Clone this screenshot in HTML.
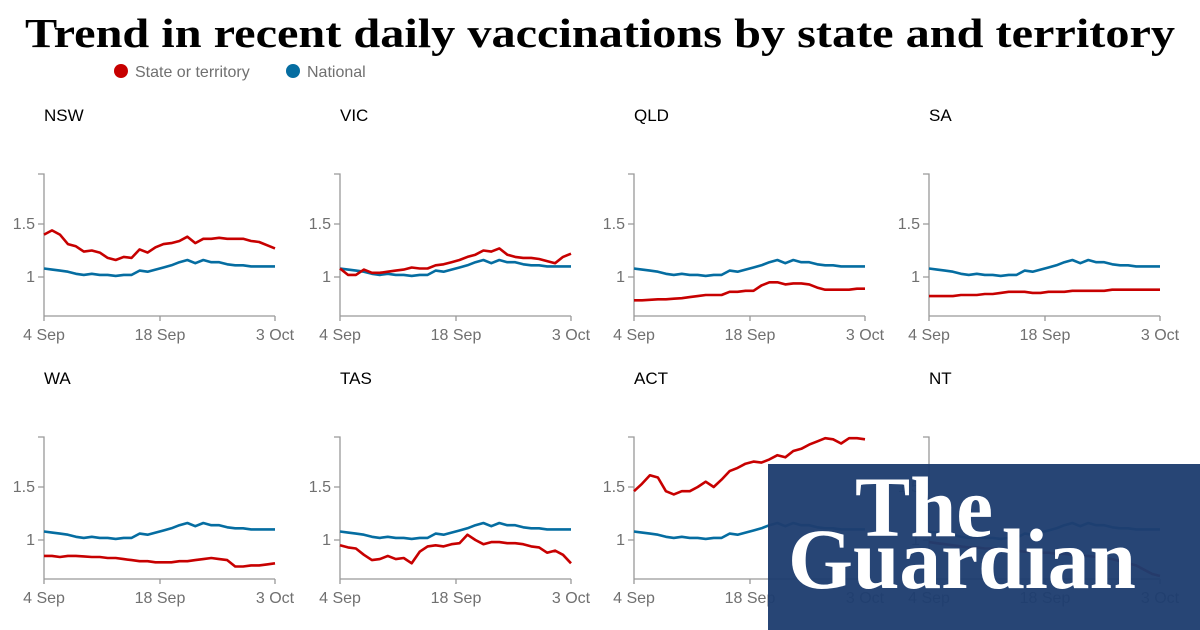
<!DOCTYPE html>
<html><head><meta charset="utf-8"><style>
html,body{margin:0;padding:0;background:#fff;}
svg{display:block;}
text{font-family:"Liberation Sans",sans-serif;}
</style></head><body>
<svg id="s" width="1200" height="630" viewBox="0 0 1200 630" xmlns="http://www.w3.org/2000/svg">
<text x="25" y="47" font-family="Liberation Serif, serif" font-weight="bold" font-size="41" textLength="1150" lengthAdjust="spacingAndGlyphs" fill="#000" style="font-family:'Liberation Serif',serif">Trend in recent daily vaccinations by state and territory</text>
<circle cx="121" cy="71" r="7" fill="#c70000"/>
<text x="135" y="77" font-size="16" fill="#707070">State or territory</text>
<circle cx="293" cy="71" r="7" fill="#056da1"/>
<text x="307" y="77" font-size="16" fill="#707070">National</text>
<g id="panels"></g>
<rect x="768" y="464" width="432" height="166" fill="#1e3d6f" fill-opacity="0.96"/>
<text x="855" y="536" font-size="86" font-weight="bold" fill="#fff" style="font-family:'Liberation Serif',serif" textLength="138" lengthAdjust="spacingAndGlyphs">The</text>
<text x="788" y="588" font-size="86" font-weight="bold" fill="#fff" style="font-family:'Liberation Serif',serif" textLength="348" lengthAdjust="spacingAndGlyphs">Guardian</text>
</svg>
<script>
var nat=[1.08,1.07,1.06,1.05,1.03,1.02,1.03,1.02,1.02,1.01,1.02,1.02,1.06,1.05,1.07,1.09,1.11,1.14,1.16,1.13,1.16,1.14,1.14,1.12,1.11,1.11,1.10,1.10,1.10,1.10];
var P=[
["NSW",[1.40,1.44,1.40,1.31,1.29,1.24,1.25,1.23,1.18,1.16,1.19,1.18,1.26,1.23,1.28,1.31,1.32,1.34,1.38,1.32,1.36,1.36,1.37,1.36,1.36,1.36,1.34,1.33,1.30,1.27]],
["VIC",[1.08,1.02,1.02,1.07,1.04,1.04,1.05,1.06,1.07,1.09,1.08,1.08,1.11,1.12,1.14,1.16,1.19,1.21,1.25,1.24,1.27,1.21,1.19,1.18,1.18,1.17,1.15,1.13,1.19,1.22]],
["QLD",[0.78,0.78,0.785,0.79,0.79,0.795,0.80,0.81,0.82,0.83,0.83,0.83,0.86,0.86,0.87,0.87,0.92,0.95,0.95,0.93,0.94,0.94,0.93,0.90,0.88,0.88,0.88,0.88,0.89,0.89]],
["SA",[0.82,0.82,0.82,0.82,0.83,0.83,0.83,0.84,0.84,0.85,0.86,0.86,0.86,0.85,0.85,0.86,0.86,0.86,0.87,0.87,0.87,0.87,0.87,0.88,0.88,0.88,0.88,0.88,0.88,0.88]],
["WA",[0.85,0.85,0.84,0.85,0.85,0.845,0.84,0.84,0.83,0.83,0.82,0.81,0.80,0.80,0.79,0.79,0.79,0.80,0.80,0.81,0.82,0.83,0.82,0.81,0.75,0.75,0.76,0.76,0.77,0.78]],
["TAS",[0.95,0.93,0.92,0.86,0.81,0.82,0.85,0.82,0.83,0.78,0.89,0.94,0.95,0.94,0.96,0.97,1.05,1.00,0.96,0.98,0.98,0.97,0.97,0.96,0.94,0.93,0.88,0.90,0.86,0.78]],
["ACT",[1.46,1.53,1.61,1.59,1.46,1.43,1.46,1.46,1.50,1.55,1.50,1.57,1.65,1.68,1.72,1.74,1.73,1.76,1.80,1.78,1.84,1.86,1.90,1.93,1.96,1.95,1.91,1.96,1.96,1.95]],
["NT",[0.98,0.97,0.96,0.95,0.94,0.93,0.93,0.92,0.92,0.91,0.90,0.90,0.89,0.89,0.88,0.88,0.87,0.87,0.86,0.85,0.85,0.84,0.83,0.82,0.80,0.78,0.76,0.72,0.68,0.66]]
];
var xs=[44,340,634,929],g=document.getElementById('panels'),h='';
P.forEach(function(p,i){
 var x0=xs[i%4],dy=i<4?0:263,W=231;
 function Y(v){return 277+dy-(v-1)*106;}
 function line(d,c){return '<polyline fill="none" stroke="'+c+'" stroke-width="2.6" stroke-linejoin="round" points="'+d.map(function(v,k){return (x0+k*W/29).toFixed(1)+','+Y(v).toFixed(1)}).join(' ')+'"/>';}
 var ax='#999';
 h+='<text x="'+x0+'" y="'+(121+dy)+'" font-size="17" fill="#000">'+p[0]+'</text>';
 h+='<path d="M'+(x0-6)+' '+(174+dy)+'H'+x0+'V'+(316+dy)+'H'+(x0+W)+'M'+(x0-6)+' '+Y(1.5)+'H'+x0+'M'+(x0-6)+' '+Y(1)+'H'+x0+'M'+x0+' '+(316+dy)+'v5M'+(x0+116)+' '+(316+dy)+'v5M'+(x0+W)+' '+(316+dy)+'v5" stroke="'+ax+'" stroke-width="1.3" fill="none"/>';
 h+='<text x="'+(x0-9)+'" y="'+(Y(1.5)+5)+'" font-size="16" fill="#707070" text-anchor="end">1.5</text>';
 h+='<text x="'+(x0-9)+'" y="'+(Y(1)+5)+'" font-size="16" fill="#707070" text-anchor="end">1</text>';
 h+='<text x="'+x0+'" y="'+(340+dy)+'" font-size="16" fill="#707070" text-anchor="middle">4 Sep</text>';
 h+='<text x="'+(x0+116)+'" y="'+(340+dy)+'" font-size="16" fill="#707070" text-anchor="middle">18 Sep</text>';
 h+='<text x="'+(x0+W)+'" y="'+(340+dy)+'" font-size="16" fill="#707070" text-anchor="middle">3 Oct</text>';
 h+=line(nat,'#056da1')+line(p[1],'#c70000');
});
g.innerHTML=h;
</script>
</body></html>
